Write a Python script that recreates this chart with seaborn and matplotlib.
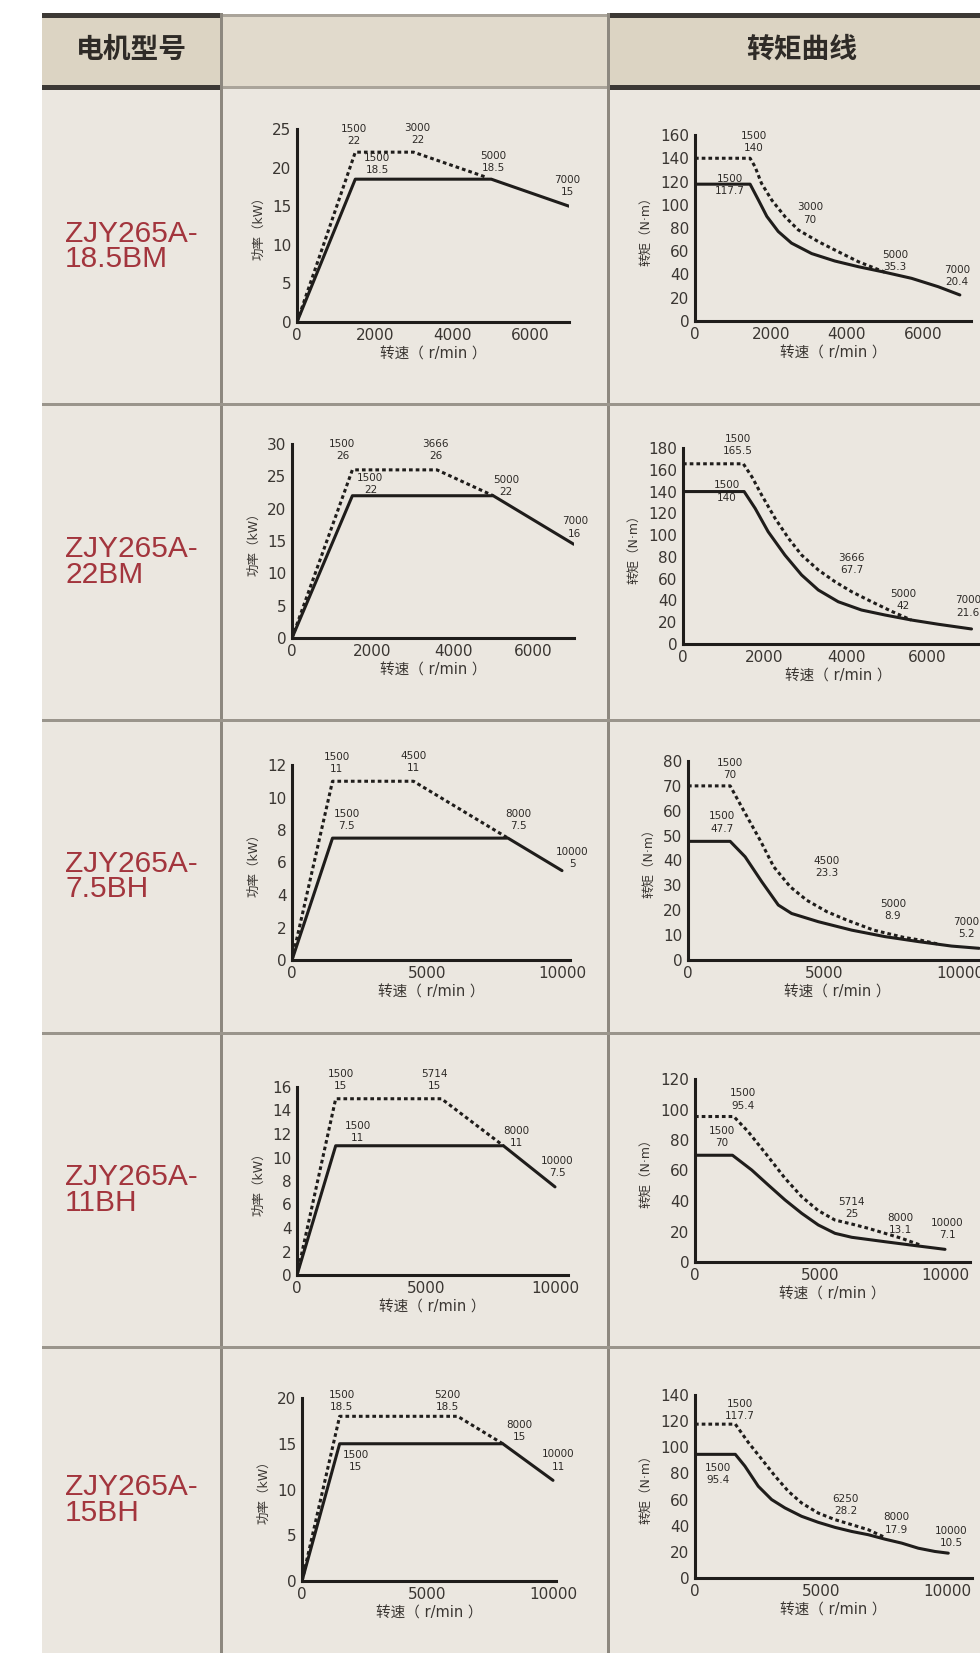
import matplotlib
matplotlib.use("Agg")
import matplotlib.pyplot as plt
from matplotlib.patches import Rectangle
import seaborn as sns

# ---- data ----
models = ["ZJY265A-\n18.5BM", "ZJY265A-\n22BM", "ZJY265A-\n7.5BH", "ZJY265A-\n11BH", "ZJY265A-\n15BH"]
header_left = "电机型号"
header_right = "转矩曲线"
power_label = "功率（kW）"
torque_label = "转矩（N·m）"
speed_label = "转速（ r/min ）"

# 18.5BM
pw1_rated_n = [0, 1500, 5000, 7000]
pw1_rated_p = [0, 18.5, 18.5, 15]
pw1_peak_n = [0, 1500, 3000, 4900]
pw1_peak_p = [0, 22, 22, 18.7]
tq1_rated_n = [0, 1450, 1670, 1890, 2190, 2540, 3070, 3680, 4300, 5000, 5700, 6400, 6970]
tq1_rated_t = [117.7, 117.7, 104, 90, 77, 67, 58, 51.6, 46.7, 41.9, 36.7, 29.5, 22.4]
tq1_peak_n = [0, 1450, 1580, 1750, 2020, 2370, 2720, 3250, 3770, 4300, 4740, 5000]
tq1_peak_t = [140, 140, 132.7, 118.4, 104, 89.7, 78.3, 68.2, 59.6, 51, 45.3, 41.9]
pw1_labels = ["1500\n22", "1500\n18.5", "3000\n22", "5000\n18.5", "7000\n15"]
tq1_labels = ["1500\n140", "1500\n117.7", "3000\n70", "5000\n35.3", "7000\n20.4"]

# 22BM
pw2_rated_n = [0, 1500, 5000, 7000]
pw2_rated_p = [0, 22, 22, 14.5]
pw2_peak_n = [0, 1500, 3600, 5000]
pw2_peak_p = [0, 26, 26, 22]
tq2_rated_n = [0, 1500, 1770, 2090, 2500, 2910, 3320, 3810, 4380, 4960, 5610, 6270, 7080]
tq2_rated_t = [140, 140, 124.6, 103.1, 81.7, 63.4, 49.6, 38.8, 31.2, 26.6, 22, 18.1, 13.8]
tq2_peak_n = [0, 1480, 1690, 1930, 2260, 2590, 2910, 3320, 3730, 4140, 4630, 5120, 5600]
tq2_peak_t = [165.5, 165.5, 153.6, 136.8, 115.4, 97, 81.7, 68, 57.2, 48, 38.8, 30, 22]
pw2_labels = ["1500\n26", "1500\n22", "3666\n26", "5000\n22", "7000\n16"]
tq2_labels = ["1500\n165.5", "1500\n140", "3666\n67.7", "5000\n42", "7000\n21.6"]

# 7.5BH
pw3_rated_n = [0, 1500, 8000, 10000]
pw3_rated_p = [0, 7.5, 7.5, 5.5]
pw3_peak_n = [0, 1500, 4500, 8000]
pw3_peak_p = [0, 11, 11, 7.5]
tq3_rated_n = [0, 1550, 2100, 2710, 3320, 3810, 4790, 6020, 7240, 8470, 9690, 10700]
tq3_rated_t = [47.7, 47.7, 41.5, 31.5, 22.1, 18.7, 15.4, 12, 9.4, 7.4, 5.6, 4.7]
tq3_peak_n = [0, 1550, 2050, 2660, 3150, 3760, 4370, 5110, 5850, 6830, 7930, 8540, 9200]
tq3_peak_t = [70, 70, 60, 48, 37.5, 29.4, 24, 19.4, 16, 12, 9.1, 8, 6.4]
pw3_labels = ["1500\n11", "4500\n11", "1500\n7.5", "8000\n7.5", "10000\n5"]
tq3_labels = ["1500\n70", "1500\n47.7", "4500\n23.3", "5000\n8.9", "7000\n5.2"]

# 11BH
pw4_rated_n = [0, 1500, 8000, 10000]
pw4_rated_p = [0, 11, 11, 7.5]
pw4_peak_n = [0, 1500, 5600, 8000]
pw4_peak_p = [0, 15, 15, 11]
tq4_rated_n = [0, 1500, 2270, 2930, 3600, 4270, 4930, 5600, 6270, 7600, 8930, 10000]
tq4_rated_t = [70, 70, 60.3, 50.5, 40.7, 31.9, 24.3, 18.8, 16.2, 13.3, 10.5, 8.3]
tq4_peak_n = [0, 1550, 2130, 2930, 3600, 4270, 4930, 5600, 6270, 6930, 7600, 8270, 9000]
tq4_peak_t = [95.4, 95.4, 85.4, 69, 54.9, 42.8, 33.7, 27.5, 24.9, 22.1, 18.8, 15.5, 11.2]
pw4_labels = ["1500\n15", "5714\n15", "1500\n11", "8000\n11", "10000\n7.5"]
tq4_labels = ["1500\n95.4", "1500\n70", "5714\n25", "8000\n13.1", "10000\n7.1"]

# 15BH
pw5_rated_n = [0, 1500, 8000, 10000]
pw5_rated_p = [0, 15, 15, 11]
pw5_peak_n = [0, 1500, 6200, 8000]
pw5_peak_p = [0, 18, 18, 15]
tq5_rated_n = [0, 1600, 1980, 2510, 3040, 3570, 4230, 4890, 5560, 6220, 6880, 7540, 8200, 8860, 9520, 10050]
tq5_rated_t = [94.6, 94.6, 85.6, 70.2, 60, 53.6, 47.2, 42.6, 38.7, 35.6, 33.1, 29.7, 26.7, 22.8, 20.3, 19]
tq5_peak_n = [0, 1600, 2120, 2650, 3180, 3700, 4230, 4890, 5560, 6220, 6880, 7540]
tq5_peak_t = [117.7, 117.7, 103.6, 90.8, 77.9, 66.4, 57.4, 49.7, 44.6, 40.8, 36.9, 31]
pw5_labels = ["1500\n18.5", "5200\n18.5", "1500\n15", "8000\n15", "10000\n11"]
tq5_labels = ["1500\n117.7", "1500\n95.4", "6250\n28.2", "8000\n17.9", "10000\n10.5"]

pw_yticks = [list(range(0, 26, 5)), list(range(0, 31, 5)), list(range(0, 13, 2)),
             list(range(0, 17, 2)), list(range(0, 21, 5))]
tq_yticks = [list(range(0, 161, 20)), list(range(0, 181, 20)), list(range(0, 81, 10)),
             list(range(0, 121, 20)), list(range(0, 141, 20))]
pw_xticks = [[0, 2000, 4000, 6000], [0, 2000, 4000, 6000], [0, 5000, 10000],
             [0, 5000, 10000], [0, 5000, 10000]]
tq_xticks = [[0, 2000, 4000, 6000], [0, 2000, 4000, 6000], [0, 5000, 10000],
             list(range(0, 10001, 1000)), list(range(0, 10001, 1000))]
# speeds that get a printed label on the finely ticked axes
fine_tick_labels = [0, 5000, 10000]

# ---- layout (pixels) ----
W, H = 980, 1653
# x of zero, px per 1000 r/min, x max, y of zero, y of top tick
pw_frames = [(297, 38.86, 7000, 322, 129), (292, 40.25, 7000, 638, 444),
             (292, 27.0, 10300, 960, 765), (297, 25.8, 10500, 1275, 1087),
             (302, 25.1, 10100, 1581, 1398)]
tq_frames = [(695, 38.0, 7250, 321, 135), (683, 40.75, 7600, 644, 448),
             (688, 27.2, 11000, 960, 761), (695, 25.0, 11000, 1262, 1079),
             (695, 25.2, 11000, 1578, 1395)]
pw_offsets = [[(-1, -17), (22, -15), (4, -18), (2, -17), (-2, -20)],
              [(-10, -20), (18, -12), (-4, -20), (13, -10), (1, -7)],
              [(4, -18), (0, -19), (14, -18), (10, -18), (10, -21)],
              [(5, -19), (-10, -19), (22, -14), (13, -9), (2, -20)],
              [(2, -11), (15, -11), (16, 17), (17, -13), (5, -20)]]
tq_offsets = [[(2, -16), (-22, 1), (1, -26), (10, -19), (-4, -21)],
              [(-6, -19), (-17, 0), (19, -6), (16, 2), (0, -14)],
              [(1, -17), (-7, -19), (16, -35), (69, -28), (88, -19)],
              [(10, -17), (-11, -18), (14, -16), (5, -18), (2, -22)],
              [(7, -14), (-15, 21), (-7, -36), (0, -31), (4, -27)]]
row_edges = [89, 404, 720, 1033, 1347, 1653]

INK = "#1f1d1b"
TXT = "#2d2a27"
CJK = ["DejaVu Sans", "Noto Sans CJK SC"]

sns.set_theme(style="white")
plt.rcParams["font.family"] = CJK

fig = plt.figure(figsize=(W / 100, H / 100), dpi=100, facecolor="white")


def box(x, y, w, h, color):
    fig.add_artist(Rectangle((x / W, 1 - (y + h) / H), w / W, h / H, transform=fig.transFigure,
                             facecolor=color, edgecolor="none", zorder=-10))


# table background and rules
box(42, 89, 938, 1564, "#ebe7e0")
box(42, 15, 938, 74, "#dcd4c3")
box(222, 15, 387, 74, "#e1dacc")
for y in (13, 85):
    box(42, y, 180, 5, "#3c3935")
    box(609, y, 371, 5, "#3c3935")
    box(222, y + 1, 387, 3, "#aaa49a")
for x in (220, 607):
    box(x, 13, 3, 1640, "#8d887f")
for y in row_edges[1:-1]:
    box(42, y - 1, 938, 3, "#9a958c")

fig.text(131 / W, 1 - 50 / H, header_left, ha="center", va="center", fontsize=20,
         fontweight="bold", color="#2f2b27", family=["Noto Sans CJK SC"])
fig.text(802 / W, 1 - 50 / H, header_right, ha="center", va="center", fontsize=20,
         fontweight="bold", color="#2f2b27", family=["Noto Sans CJK SC"])


def add_axes(frame):
    x0, ppk, xmax, y0, ytop = frame
    return fig.add_axes([x0 / W, 1 - y0 / H, xmax / 1000 * ppk / W, (y0 - ytop) / H])


def draw_chart(ax, rated_n, rated_v, peak_n, peak_v, labels, offsets, xticks, yticks, xmax, ylabel):
    sns.lineplot(x=rated_n, y=rated_v, ax=ax, color=INK, linewidth=2.2,
                 sort=False, estimator=None)
    sns.lineplot(x=peak_n, y=peak_v, ax=ax, color=INK, linewidth=2.2,
                 linestyle=(0, (1.2, 1.0)), sort=False, estimator=None)
    ax.set_xlim(0, xmax)
    ax.set_ylim(0, yticks[-1])
    ax.set_facecolor("none")
    for side in ("top", "right"):
        ax.spines[side].set_visible(False)
    for side in ("left", "bottom"):
        ax.spines[side].set_linewidth(2.2)
        ax.spines[side].set_color(INK)
    ax.set_xticks(xticks)
    if len(xticks) > 4:
        ax.set_xticklabels([str(t) if t in fine_tick_labels else "" for t in xticks])
    else:
        ax.set_xticklabels([str(t) for t in xticks])
    ax.set_yticks(yticks)
    ax.set_yticklabels([str(t) for t in yticks])
    ax.tick_params(direction="in", length=5, width=2.0, labelsize=11, pad=4,
                   color=INK, labelcolor="#3a3632")
    ax.set_xlabel(speed_label, fontsize=10.5, color="#3a3632", labelpad=3)
    ax.set_ylabel(ylabel, fontsize=9, color="#3a3632", labelpad=5)
    for text, (dx, dy) in zip(labels, offsets):
        n, v = (float(s) for s in text.split("\n"))
        ax.annotate(text, xy=(n, v), xytext=(dx, -dy), textcoords="offset pixels",
                    ha="center", va="center", fontsize=7.5, linespacing=1.3,
                    color=TXT, annotation_clip=False)


rows = [
    (pw1_rated_n, pw1_rated_p, pw1_peak_n, pw1_peak_p, tq1_rated_n, tq1_rated_t, tq1_peak_n, tq1_peak_t, pw1_labels, tq1_labels),
    (pw2_rated_n, pw2_rated_p, pw2_peak_n, pw2_peak_p, tq2_rated_n, tq2_rated_t, tq2_peak_n, tq2_peak_t, pw2_labels, tq2_labels),
    (pw3_rated_n, pw3_rated_p, pw3_peak_n, pw3_peak_p, tq3_rated_n, tq3_rated_t, tq3_peak_n, tq3_peak_t, pw3_labels, tq3_labels),
    (pw4_rated_n, pw4_rated_p, pw4_peak_n, pw4_peak_p, tq4_rated_n, tq4_rated_t, tq4_peak_n, tq4_peak_t, pw4_labels, tq4_labels),
    (pw5_rated_n, pw5_rated_p, pw5_peak_n, pw5_peak_p, tq5_rated_n, tq5_rated_t, tq5_peak_n, tq5_peak_t, pw5_labels, tq5_labels),
]

for i, (prn, prp, ppn, ppp, trn, trt, tpn, tpt, plab, tlab) in enumerate(rows):
    yc = (row_edges[i] + row_edges[i + 1]) / 2
    fig.text(65 / W, 1 - yc / H, models[i], ha="left", va="center", fontsize=21.5,
             color="#a3353d", family=["Liberation Sans"], linespacing=0.9)

    ax = add_axes(pw_frames[i])
    draw_chart(ax, prn, prp, ppn, ppp, plab, pw_offsets[i], pw_xticks[i], pw_yticks[i],
               pw_frames[i][2], power_label)

    ax = add_axes(tq_frames[i])
    draw_chart(ax, trn, trt, tpn, tpt, tlab, tq_offsets[i], tq_xticks[i], tq_yticks[i],
               tq_frames[i][2], torque_label)

fig.savefig("out.png", dpi=100, facecolor="white")
